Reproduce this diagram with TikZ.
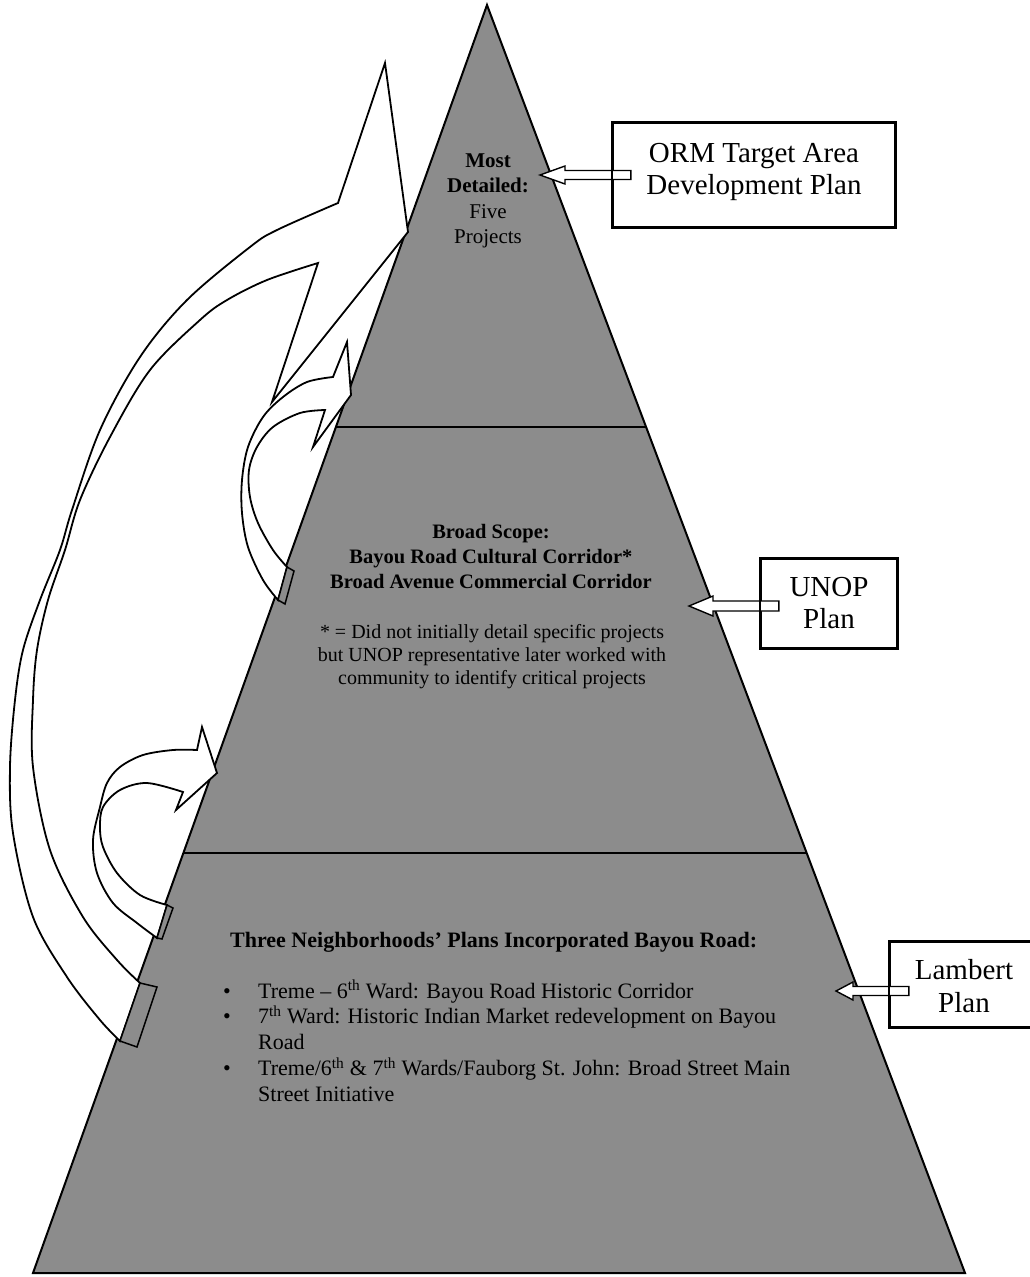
\documentclass[tikz,border=0pt]{standalone}
\usepackage{fontspec}
\setmainfont{Liberation Serif}
\usetikzlibrary{calc}
\definecolor{pyrgray}{gray}{0.55}
\begin{document}
\begin{tikzpicture}[x=1pt,y=-1pt,
  outl/.style={draw=black, line width=2pt, line join=miter},
  curvarrow/.style={draw=black, line width=1.8pt, fill=white, line join=miter},
  tailbox/.style={draw=black, line width=1.5pt, fill=pyrgray},
  planbox/.style={draw=black, line width=2.2pt, inner sep=0pt},
  blockarrow/.style={draw=black, line width=1.4pt, fill=white},
  txt/.style={inner sep=0pt, anchor=base},
  tiertxt/.style={txt, font=\fontsize{21}{25.5}\selectfont},
  boxtxt/.style={txt, font=\fontsize{29}{32.5}\selectfont},
]
\useasboundingbox (0,0) rectangle (1029,1277);

% pyramid
\coordinate (apex) at (487,5);
\coordinate (bl) at (33,1273);
\coordinate (br) at (965,1273);
\fill[pyrgray] (apex) -- (bl) -- (br) -- cycle;
\draw[outl] ($(apex)!0.3328!(bl)$) -- ($(apex)!0.3328!(br)$);
\draw[outl] ($(apex)!0.6688!(bl)$) -- ($(apex)!0.6688!(br)$);
\draw[outl] (apex) -- (bl) -- (br) -- cycle;

% tier texts
\node[tiertxt] (toptxt) at (488,167) {\begin{tabular}[t]{@{}c@{}}\textbf{Most}\\\textbf{Detailed:}\\Five\\Projects\end{tabular}};
\node[txt, font=\fontsize{20.5}{25}\selectfont\bfseries] (midA) at (491,538) {\begin{tabular}[t]{@{}c@{}}Broad Scope:\\Bayou Road Cultural Corridor*\\Broad Avenue Commercial Corridor\end{tabular}};
\node[txt, font=\fontsize{20}{23}\selectfont] (midB) at (492,638) {\begin{tabular}[t]{@{}c@{}}* = Did not initially detail specific projects\\but UNOP representative later worked with\\community to identify critical projects\end{tabular}};
\node[txt, anchor=base west, font=\fontsize{22}{25.8}\selectfont\bfseries] (lowtitle) at (230,947) {Three Neighborhoods' Plans Incorporated Bayou Road:};
\node[txt, anchor=base west, font=\fontsize{22}{25.8}\selectfont] (lowlist) at (223,998) {\begin{tabular}[t]{@{}l@{}l@{}}
\makebox[35pt][l]{\textbullet} & Treme – 6\textsuperscript{th} Ward: Bayou Road Historic Corridor\\
\textbullet & 7\textsuperscript{th} Ward: Historic Indian Market redevelopment on Bayou\\
 & Road\\
\textbullet & Treme/6\textsuperscript{th} \& 7\textsuperscript{th} Wards/Fauborg St. John: Broad Street Main\\
 & Street Initiative
\end{tabular}};

% curved arrows
\draw[curvarrow] plot[smooth,tension=0.55] coordinates {(140,983) (117,960) (83,917) (50,850) (33,767) (33,700) (37,650) (48,600) (65,550) (80,500) (110,437) (150,370) (200,320) (227,300) (267,280) (318,263)}
  -- (272,402) -- (408,232) -- (385,63)
  -- plot[smooth,tension=0.55] coordinates {(338,203) (277,230) (250,247) (187,300) (140,357) (100,430) (72,510) (60,550) (40,600) (23,650) (15,700) (10,767) (13,833) (33,917) (67,977) (100,1020) (120,1041)} -- cycle;
\draw[tailbox] (140,983) -- (157,987) -- (137,1047) -- (120,1041) -- cycle;

\draw[curvarrow] plot[smooth,tension=0.55] coordinates {(287,567) (273,550) (258,523) (250,497) (249,470) (257,447) (273,427) (300,413) (325,410)}
  -- (313,447) -- (351,395) -- (347,342)
  -- plot[smooth,tension=0.55] coordinates {(333,377) (307,382) (283,397) (263,417) (248,447) (242,480) (242,513) (248,547) (263,580) (278,600)} -- cycle;
\draw[tailbox] (287,567) -- (294,571) -- (285,604) -- (278,600) -- cycle;

\draw[curvarrow] plot[smooth,tension=0.55] coordinates {(167,905) (140,895) (117,873) (103,847) (100,827) (103,807) (120,790) (147,783) (183,792)}
  -- (176,810) -- (217,773) -- (202,727)
  -- plot[smooth,tension=0.55] coordinates {(197,750) (173,750) (143,755) (120,767) (107,783) (100,807) (93,840) (97,873) (113,903) (137,923) (157,938)} -- cycle;
\draw[tailbox] (167,905) -- (173,908) -- (162,939) -- (157,938) -- cycle;

% plan boxes and their arrows
\coordinate (ormtip) at (540,175);
\coordinate (unoptip) at (689,606);
\coordinate (lamtip) at (836,991);
\node[planbox, minimum width=282pt, minimum height=104pt] (orm) at (754,175) {};
\node[planbox, minimum width=136pt, minimum height=89pt] (unop) at (829,603.5) {};
\node[planbox, minimum width=148pt, minimum height=85pt] (lam) at (964,984.5) {};

\draw[blockarrow] (ormtip) -- ++(25,-9) -- ++(0,4.5) -- ($(ormtip -| orm.west)+(19,-4.5)$) -- ++(0,9) -- ($(ormtip)+(25,4.5)$) -- ++(0,4.5) -- cycle;
\draw[blockarrow] (unoptip) -- ++(24,-10) -- ++(0,5) -- ($(unoptip -| unop.west)+(19,-5)$) -- ++(0,10) -- ($(unoptip)+(24,5)$) -- ++(0,5) -- cycle;
\draw[blockarrow] (lamtip) -- ++(17,-9) -- ++(0,4.5) -- ($(lamtip -| lam.west)+(20,-4.5)$) -- ++(0,9) -- ($(lamtip)+(17,4.5)$) -- ++(0,4.5) -- cycle;

\draw[planbox] (orm.north west) rectangle (orm.south east);
\draw[planbox] (unop.north west) rectangle (unop.south east);
\draw[planbox] (lam.north west) rectangle (lam.south east);

\node[boxtxt] (ormtxt) at (754,162) {\begin{tabular}[t]{@{}c@{}}ORM Target Area\\Development Plan\end{tabular}};
\node[boxtxt] (unoptxt) at (829,596) {\begin{tabular}[t]{@{}c@{}}UNOP\\Plan\end{tabular}};
\node[boxtxt] (lamtxt) at (964,979.5) {\begin{tabular}[t]{@{}c@{}}Lambert\\Plan\end{tabular}};
\end{tikzpicture}
\end{document}
